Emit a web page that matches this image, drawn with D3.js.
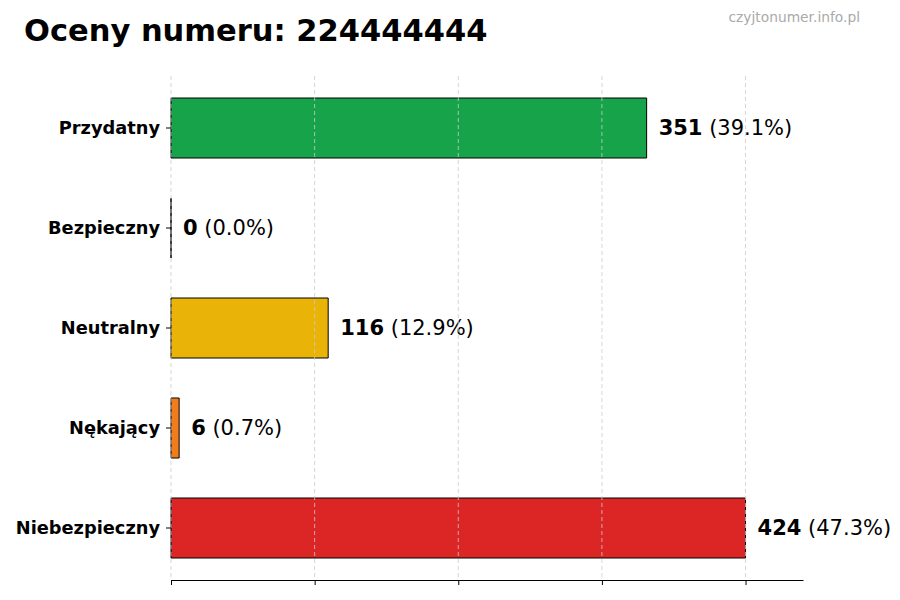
<!DOCTYPE html>
<html>
<head>
<meta charset="utf-8">
<script src="https://cdn.jsdelivr.net/npm/d3@7.9.0/dist/d3.min.js"></script>
<style>
  body { margin: 0; background: #fff; }
  svg { font-family: "DejaVu Sans", sans-serif; }
</style>
</head>
<body>
<svg id="chart" width="900" height="600"></svg>
<script>
// data
const categories = ["Przydatny", "Bezpieczny", "Neutralny", "Nękający", "Niebezpieczny"];
const counts = [351, 0, 116, 6, 424];
const barColors = ["#16a34a", "#3b82f6", "#eab308", "#f07c1a", "#dc2626"];
const titleText = "Oceny numeru: 224444444";
const watermark = "czyjtonumer.info.pl";

const svg = d3.select("#chart");
const total = d3.sum(counts);
const maxVal = d3.max(counts);

const plotLeft = 171, plotRight = 803, plotTop = 78, plotBottom = 578;

// x goes to 110% of the max, ticks at quarters of the max
const x = d3.scaleLinear().domain([0, maxVal * 1.1]).range([plotLeft, plotRight]);
const y = d3.scaleBand().domain(categories).range([plotTop, plotBottom])
    .paddingInner(0.4).paddingOuter(0.2);

// title + watermark
svg.append("text")
    .attr("x", 24).attr("y", 41)
    .attr("font-size", 30.5).attr("font-weight", "bold")
    .text(titleText);

svg.append("text")
    .attr("x", 860).attr("y", 22)
    .attr("text-anchor", "end")
    .attr("font-size", 13.8).attr("fill", "#aaaaaa")
    .text(watermark);

// bars (paths so that the zero bar still shows its outline)
categories.forEach((c, i) => {
    const x0 = x(0), w = x(counts[i]) - x(0);
    const y0 = y(c), h = y.bandwidth();
    svg.append("path")
        .attr("d", `M${x0},${y0}h${w}v${h}h${-w}Z`)
        .attr("fill", barColors[i])
        .attr("stroke", "#000")
        .attr("stroke-width", 1);

    let lbl = svg.append("text")
        .attr("x", x(counts[i]) + 12)
        .attr("y", y0 + h / 2)
        .attr("dy", "0.35em")
        .attr("font-size", 21);
    lbl.append("tspan").attr("font-weight", "bold").text(counts[i]);
    lbl.append("tspan").text(" (" + (counts[i] / total * 100).toFixed(1) + "%)");
});

// dashed grid drawn over the bars
const tickVals = d3.range(5).map(k => maxVal * k / 4);
svg.append("g").selectAll("line").data(tickVals).join("line")
    .attr("x1", d => x(d)).attr("x2", d => x(d))
    .attr("y1", 76).attr("y2", 580)
    .attr("stroke", "#cccccc").attr("stroke-width", 0.8)
    .attr("stroke-dasharray", "4,3");

// x axis, no labels
const xAxis = svg.append("g")
    .attr("transform", "translate(0,580)")
    .call(d3.axisBottom(x).tickValues(tickVals).tickFormat("").tickSize(5).tickSizeOuter(0));
xAxis.select(".domain").attr("stroke", "#000").attr("stroke-width", 1.2);

// y axis with ticks only, no spine
const yAxis = svg.append("g")
    .attr("transform", `translate(${plotLeft},0)`)
    .call(d3.axisLeft(y).tickSize(5).tickPadding(6));
yAxis.select(".domain").remove();
yAxis.selectAll("text")
    .attr("font-size", 17.8).attr("font-weight", "bold")
    .attr("fill", "#000")
    .attr("font-family", "DejaVu Sans, sans-serif");
</script>
</body>
</html>
